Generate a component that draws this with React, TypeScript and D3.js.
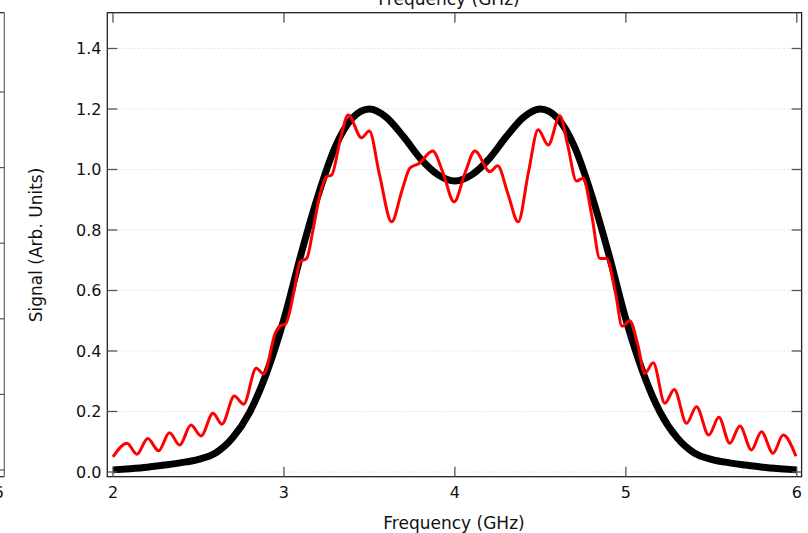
import React from "react";
import * as d3 from "d3";

// ---- data ----
const freqTicks = [2, 3, 4, 5, 6];
const signalTicks = [0, 0.2, 0.4, 0.6, 0.8, 1.0, 1.2, 1.4];
const signalTickLabels = ["0.0", "0.2", "0.4", "0.6", "0.8", "1.0", "1.2", "1.4"];
const leftPanelTicks = [0, 1, 2, 3, 4, 5];
const leftPanelTickLabel = "6";

const targetFreq = [
  2.0, 2.1, 2.2, 2.3, 2.4, 2.5, 2.6, 2.7, 2.8, 2.9, 3.0, 3.1, 3.2, 3.3, 3.4, 3.5, 3.6, 3.7, 3.8, 3.9, 4.0,
  4.1, 4.2, 4.3, 4.4, 4.5, 4.6, 4.7, 4.8, 4.9, 5.0, 5.1, 5.2, 5.3, 5.4, 5.5, 5.6, 5.7, 5.8, 5.9, 6.0,
];
const targetSignal = [
  0.007, 0.011, 0.016, 0.023, 0.031, 0.042, 0.063, 0.113, 0.198, 0.33, 0.505, 0.72, 0.915, 1.075, 1.17, 1.2,
  1.172, 1.108, 1.035, 0.983, 0.962, 0.983, 1.035, 1.108, 1.172, 1.2, 1.17, 1.075, 0.915, 0.72, 0.505, 0.33,
  0.198, 0.113, 0.063, 0.042, 0.031, 0.023, 0.016, 0.011, 0.007,
];

const measFreq = [
  2.0, 2.082, 2.14, 2.203, 2.267, 2.33, 2.39, 2.456, 2.515, 2.585, 2.637, 2.71, 2.764, 2.838, 2.881, 2.95,
  2.975, 3.01, 3.06, 3.094, 3.133, 3.17, 3.21, 3.25, 3.279, 3.33, 3.376, 3.454, 3.499, 3.56, 3.63, 3.69,
  3.737, 3.79, 3.87, 3.93, 3.995, 4.06, 4.117, 4.205, 4.25, 4.31, 4.37, 4.43, 4.487, 4.546, 4.614, 4.66,
  4.711, 4.75, 4.8, 4.848, 4.887, 4.94, 4.978, 5.023, 5.07, 5.111, 5.16, 5.228, 5.283, 5.355, 5.413, 5.485,
  5.544, 5.608, 5.667, 5.735, 5.793, 5.861, 5.92, 5.995,
];
const measSignal = [
  0.05, 0.095, 0.059, 0.111, 0.07, 0.13, 0.089, 0.155, 0.119, 0.194, 0.158, 0.251, 0.224, 0.343, 0.324, 0.46,
  0.482, 0.49, 0.6, 0.695, 0.706, 0.8, 0.916, 0.976, 0.982, 1.1, 1.18, 1.105, 1.127, 0.98, 0.827, 0.93,
  1.005, 1.02, 1.061, 0.99, 0.893, 0.99, 1.061, 0.993, 1.012, 0.92, 0.827, 0.99, 1.131, 1.081, 1.178, 1.08,
  0.962, 0.971, 0.85, 0.706, 0.706, 0.59, 0.482, 0.5, 0.42, 0.326, 0.361, 0.227, 0.273, 0.161, 0.216, 0.122,
  0.181, 0.095, 0.152, 0.073, 0.133, 0.062, 0.122, 0.052,
];

const FONT = "'DejaVu Sans', Arial, sans-serif";

export default function App() {
  const W = 808, H = 533;
  const frameL = 107.3, frameR = 801.6, frameT = 12.7, frameB = 476.7;
  const x = d3.scaleLinear().domain([2, 6]).range([113, 796.8]);
  const y = d3.scaleLinear().domain([0, 1.4]).range([472, 48.5]);
  // left neighbour panel (only its right edge is visible)
  const yLeft = d3.scaleLinear().domain([0, 5]).range([470, 92]);
  const leftSpine = 4.3;

  const line = d3
    .line<[number, number]>()
    .x((d) => x(d[0]))
    .y((d) => y(d[1]))
    .curve(d3.curveMonotoneX);

  const targetPts: [number, number][] = targetFreq.map((f, i) => [f, targetSignal[i]]);
  const measPts: [number, number][] = measFreq.map((f, i) => [f, measSignal[i]]);

  const tickLen = 10;
  const tickColor = "#555";
  const frameColor = "#222";

  return (
    <svg
      width={W}
      height={H}
      style={{ position: "absolute", left: 0, top: 0, background: "#fff" }}
      fontFamily={FONT}
    >
      <defs>
        <clipPath id="plotClip">
          <rect x={frameL} y={frameT} width={frameR - frameL} height={frameB - frameT} />
        </clipPath>
      </defs>
      <rect x={0} y={0} width={W} height={H} fill="#fff" />

      {/* top panel's axis title (cut off) */}
      <text x={449} y={4.5} textAnchor="middle" fontSize={17} fill="#111">
        Frequency (GHz)
      </text>

      {/* left neighbour panel edge */}
      <g>
        <line x1={-5} x2={leftSpine} y1={frameT} y2={frameT} stroke={frameColor} strokeWidth={1.2} />
        <line x1={-5} x2={leftSpine} y1={frameB} y2={frameB} stroke={frameColor} strokeWidth={1.2} />
        <line x1={leftSpine} x2={leftSpine} y1={frameT} y2={frameB} stroke="#666" strokeWidth={1.2} />
        {leftPanelTicks.map((t) => (
          <line
            key={t}
            x1={leftSpine}
            x2={leftSpine - tickLen}
            y1={yLeft(t)}
            y2={yLeft(t)}
            stroke={tickColor}
            strokeWidth={1.2}
          />
        ))}
        <text x={-1.5} y={497.5} textAnchor="middle" fontSize={16} fill="#111">
          {leftPanelTickLabel}
        </text>
      </g>

      {/* faint horizontal grid */}
      {signalTicks.map((t) => (
        <line
          key={"g" + t}
          x1={frameL}
          x2={frameR}
          y1={y(t)}
          y2={y(t)}
          stroke="#e2e2f4"
          strokeWidth={0.8}
          strokeDasharray="3,2"
        />
      ))}

      {/* curves */}
      <g clipPath="url(#plotClip)">
        <path d={line(targetPts) || ""} fill="none" stroke="#000" strokeWidth={7} strokeLinecap="butt" />
        <path d={line(measPts) || ""} fill="none" stroke="#ff0000" strokeWidth={3} strokeLinejoin="round" />
      </g>

      {/* frame */}
      <rect
        x={frameL}
        y={frameT}
        width={frameR - frameL}
        height={frameB - frameT}
        fill="none"
        stroke={frameColor}
        strokeWidth={1.3}
      />

      {/* x ticks (bottom and top, inward) */}
      {freqTicks.map((t) => (
        <g key={"x" + t}>
          <line x1={x(t)} x2={x(t)} y1={frameB} y2={frameB - tickLen} stroke={tickColor} strokeWidth={1.3} />
          <line x1={x(t)} x2={x(t)} y1={frameT} y2={frameT + tickLen} stroke={tickColor} strokeWidth={1.3} />
          <text x={x(t)} y={497.5} textAnchor="middle" fontSize={16} fill="#111">
            {t}
          </text>
        </g>
      ))}

      {/* y ticks (left and right, inward) */}
      {signalTicks.map((t, i) => (
        <g key={"y" + t}>
          <line x1={frameL} x2={frameL + tickLen} y1={y(t)} y2={y(t)} stroke={tickColor} strokeWidth={1.3} />
          <line x1={frameR} x2={frameR - tickLen} y1={y(t)} y2={y(t)} stroke={tickColor} strokeWidth={1.3} />
          <text x={101.5} y={y(t) + 5.8} textAnchor="end" fontSize={16} fill="#111">
            {signalTickLabels[i]}
          </text>
        </g>
      ))}

      {/* axis titles */}
      <text x={454} y={528.5} textAnchor="middle" fontSize={17} fill="#111">
        Frequency (GHz)
      </text>
      <text
        transform={`translate(42, 245) rotate(-90)`}
        textAnchor="middle"
        fontSize={17}
        fill="#111"
      >
        Signal (Arb. Units)
      </text>
    </svg>
  );
}
